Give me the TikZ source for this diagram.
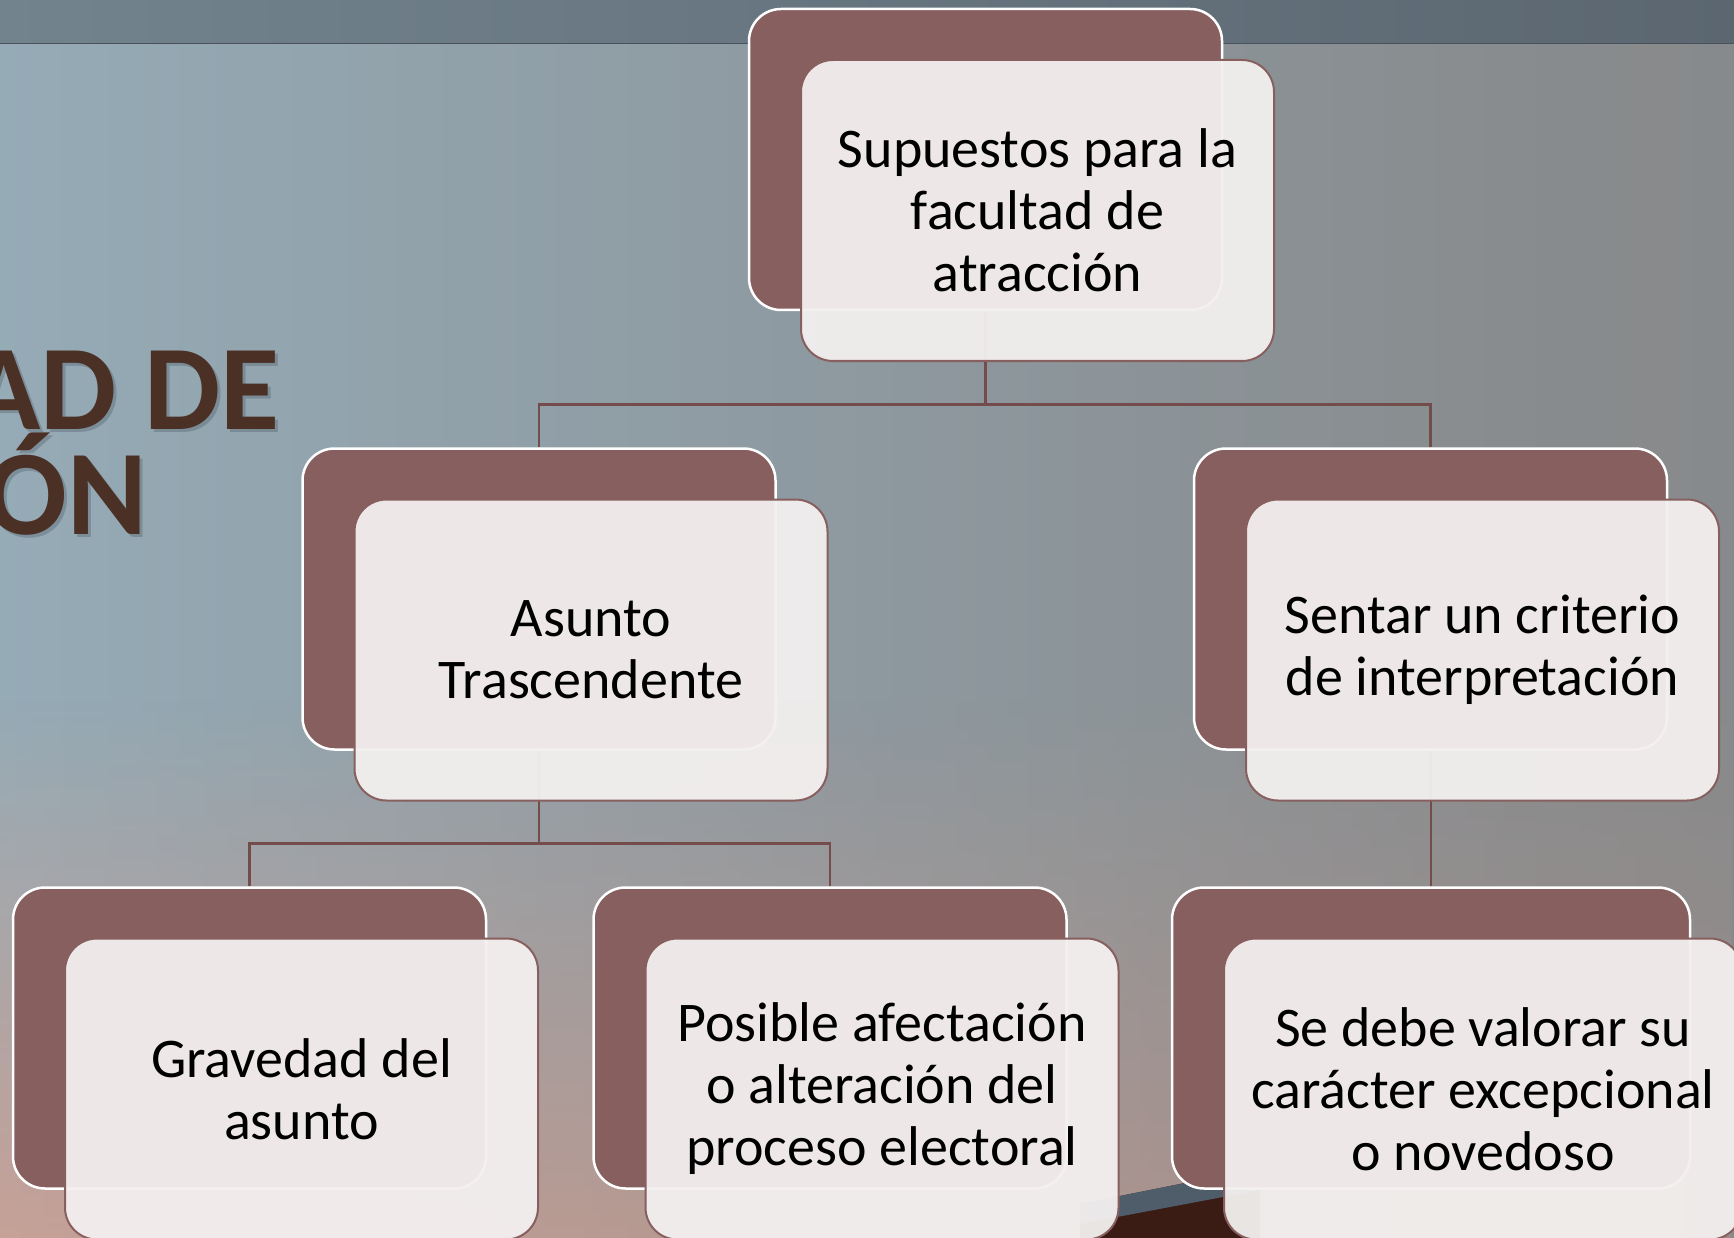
\documentclass[tikz,border=0pt]{standalone}
\usepackage{fontspec}
\setmainfont{Carlito}
\usetikzlibrary{fadings,calc}
\definecolor{boxred}{HTML}{875F5F}
\definecolor{frontfill}{HTML}{F3F0EF}
\definecolor{linec}{HTML}{744C4C}
\definecolor{titlec}{HTML}{4B3026}
\definecolor{bgR}{HTML}{848484}
\definecolor{topL}{HTML}{72838E}
\definecolor{topR}{HTML}{5B6670}
\definecolor{pinkb}{HTML}{C6A197}
\definecolor{pinkr}{HTML}{9E8E8A}
\definecolor{deskblue}{HTML}{4F5C6A}
\definecolor{deskbrown}{HTML}{3A1C14}
\definecolor{shadowc}{HTML}{2E3C46}
\pgfdeclarehorizontalshading{bgshade}{100bp}{
  color(0bp)=(rgb,255:red,164;green,180;blue,189);
  color(22bp)=(rgb,255:red,150;green,173;blue,185);
  color(48bp)=(rgb,255:red,142;green,154;blue,161);
  color(70bp)=(rgb,255:red,136;green,139;blue,141);
  color(100bp)=(rgb,255:red,132;green,132;blue,132)}
\tikzfading[name=fadeup, top color=transparent!100, bottom color=transparent!0]
\begin{document}
\begin{tikzpicture}[x=1pt,y=1pt,
  backbox/.style={draw=white, line width=2.5pt, fill=boxred, rounded corners=32pt,
    minimum width=473pt, minimum height=301pt, inner sep=0pt},
  frontbox/.style={draw=boxred, line width=2pt, fill=frontfill, fill opacity=0.95,
    text opacity=1, rounded corners=32pt, minimum width=473pt, minimum height=301pt,
    align=center, font=\fontsize{56}{62}\selectfont, inner sep=0pt},
  conn/.style={draw=linec, line width=2.5pt},
  titletext/.style={anchor=base east, font=\fontsize{121}{121}\selectfont\bfseries, text=titlec},
  titleshadow/.style={anchor=base east, font=\fontsize{121}{121}\selectfont\bfseries, text=shadowc, text opacity=0.25}]
\useasboundingbox (0,0) rectangle (1734,-1238);
% background
\shade[shading=bgshade] (0,-44) rectangle (1734,-1238);
\shade[left color=pinkb, right color=pinkr, path fading=fadeup] (0,-700) rectangle (1734,-1238);
\shade[left color=topL, right color=topR] (0,0) rectangle (1734,-44);
\draw[topR!80!black, line width=1pt] (0,-44) -- (1734,-44);
% desk
\fill[deskbrown] (1080,-1238) -- (1080,-1204) -- (1260,-1168) -- (1260,-1238) -- cycle;
\fill[deskblue] (1080,-1204) -- (1260,-1168) -- (1260,-1190) -- (1080,-1224) -- cycle;
% title
\node[titleshadow] (ts1) at (286,-432) {AD DE};
\node[titleshadow] (ts2) at (154,-537) {ÓN};
\node[titletext] (t1) at (283,-429) {AD DE};
\node[titletext] (t2) at (151,-534) {ÓN};
% back boxes
\node[backbox] (bT) at (985.5,-159.5) {};
\node[backbox] (bL) at (539,-599) {};
\node[backbox] (bR) at (1430.5,-599) {};
\node[backbox] (b3a) at (249.5,-1038) {};
\node[backbox] (b3b) at (830,-1038) {};
\node[backbox, minimum width=518pt] (b3c) at (1431,-1038) {};
% connectors
\draw[conn] (bL.north) -- ++(0,43) -| (bT.south);
\draw[conn] (bR.north) -- ++(0,43) -| (bT.south);
\draw[conn] (b3a.north) -- ++(0,43) -| (bL.south);
\draw[conn] (b3b.north) -- ++(0,43) -| (bL.south);
\draw[conn] (b3c.north) -- (b3c.north |- bR.south);
% front boxes
\node[frontbox] (fT) at (1037.5,-210.5) {Supuestos para la\\facultad de\\atracción};
\node[frontbox] (fL) at (591,-650) {Asunto\\Trascendente};
\node[frontbox] (fR) at (1482.5,-650) {Sentar un criterio\\de interpretación};
\node[frontbox] (f3a) at (301.5,-1089) {Gravedad del\\asunto};
\node[frontbox] (f3b) at (882,-1089) {Posible afectación\\o alteración del\\proceso electoral};
\node[frontbox, minimum width=518pt] (f3c) at (1483,-1089) {Se debe valorar su\\carácter excepcional\\o novedoso};
\end{tikzpicture}
\end{document}
